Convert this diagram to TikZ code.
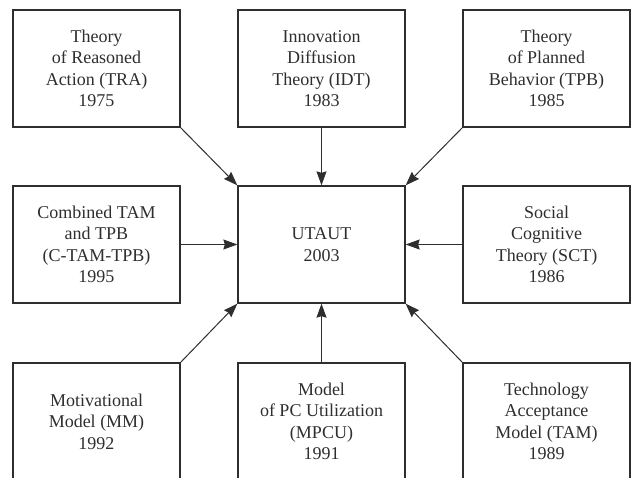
\documentclass[tikz,border=0pt]{standalone}
\usepackage{fontspec}
\setmainfont{Liberation Serif}
\usetikzlibrary{arrows.meta}
\definecolor{ink}{HTML}{2E2E2E}
\tikzset{
  model/.style={draw=ink, line width=1.3pt, text=ink, minimum width=167pt,
    minimum height=117pt, inner sep=0pt, align=center,
    font=\fontsize{18}{21.5}\selectfont},
  feed/.style={draw=ink, line width=1pt,
    -{Stealth[length=14pt,width=10pt,inset=1.5pt]}}
}
\begin{document}
\begin{tikzpicture}[x=1pt,y=-1pt]
\useasboundingbox (0,0) rectangle (635,477);
\clip (0,0) rectangle (635,477);
% top row
\node[model] (tra) at (96.5,68.5) {Theory\\of Reasoned\\Action (TRA)\\1975};
\node[model] (idt) at (321.5,68.5) {Innovation\\Diffusion\\Theory (IDT)\\1983};
\node[model] (tpb) at (546.5,68.5) {Theory\\of Planned\\Behavior (TPB)\\1985};
% middle row
\node[model] (ctam) at (96.5,244.5) {Combined TAM\\and TPB\\(C-TAM-TPB)\\1995};
\node[model] (utaut) at (321.5,244.5) {UTAUT\\2003};
\node[model] (sct) at (546.5,244.5) {Social\\Cognitive\\Theory (SCT)\\1986};
% bottom row
\node[model] (mm) at (96.5,421.5) {Motivational\\Model (MM)\\1992};
\node[model] (mpcu) at (321.5,421.5) {Model\\of PC Utilization\\(MPCU)\\1991};
\node[model] (tam) at (546.5,421.5) {Technology\\Acceptance\\Model (TAM)\\1989};
% influences on UTAUT
\draw[feed] (tra.south east) -- (utaut.north west);
\draw[feed] (idt.south) -- (utaut.north);
\draw[feed] (tpb.south west) -- (utaut.north east);
\draw[feed] (ctam.east) -- (utaut.west);
\draw[feed] (sct.west) -- (utaut.east);
\draw[feed] (mm.north east) -- (utaut.south west);
\draw[feed] (mpcu.north) -- (utaut.south);
\draw[feed] (tam.north west) -- (utaut.south east);
\end{tikzpicture}
\end{document}
